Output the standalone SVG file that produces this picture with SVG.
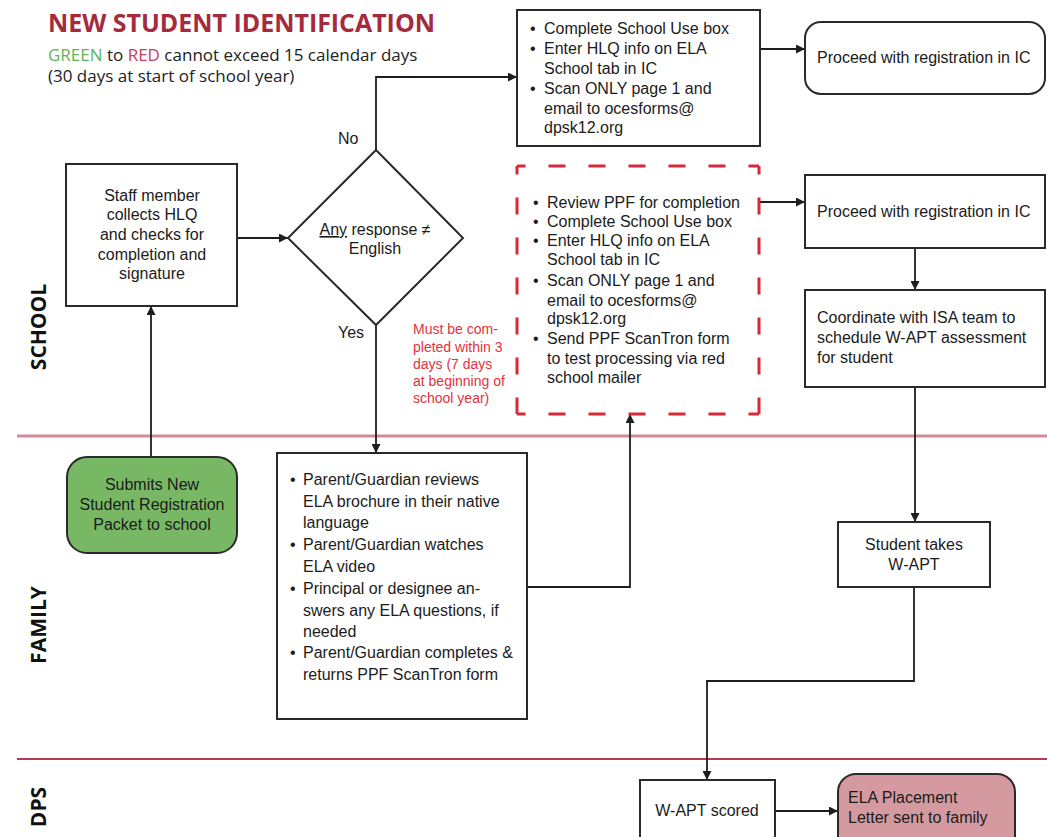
<svg xmlns="http://www.w3.org/2000/svg" width="1047" height="837" viewBox="0 0 1047 837">
  <defs>
    <marker id="arrow" viewBox="0 0 10 10" refX="10" refY="5" markerWidth="9" markerHeight="9" markerUnits="userSpaceOnUse" orient="auto">
      <path d="M0,0 L10,5 L0,10 z" fill="#1e1e1e"/>
    </marker>
    <style>
      .box{fill:#fff;stroke:#2a2a2a;stroke-width:2}
      .t{font-family:"Liberation Sans",Arial,sans-serif;font-size:16px;fill:#1b1b1b}
      .c{text-anchor:middle}
      .note{font-family:"Liberation Sans",Arial,sans-serif;font-size:14px;fill:#e2323e}
      .lane{font-family:"Open Sans","Liberation Sans",sans-serif;font-weight:bold;font-size:21px;fill:#111;text-anchor:middle}
      .head{font-family:"Open Sans","Liberation Sans",sans-serif}
      .conn path{fill:none;stroke:#1e1e1e;stroke-width:1.8}
      .dash{fill:none;stroke:#d8283a;stroke-width:3;stroke-dasharray:17 23;stroke-dashoffset:8.5}
    </style>
  </defs>

  <rect width="1047" height="837" fill="#fff"/>

  <!-- header -->
  <g id="header" class="head">
    <text x="48" y="32" font-size="25" font-weight="bold" fill="#a42a3c" textLength="387" lengthAdjust="spacingAndGlyphs">NEW STUDENT IDENTIFICATION</text>
    <text x="48" y="61" font-size="17" fill="#222"><tspan fill="#5fb35a">GREEN</tspan> to <tspan fill="#c2415e">RED</tspan> cannot exceed 15 calendar days</text>
    <text x="48" y="82" font-size="17" fill="#222">(30 days at start of school year)</text>
  </g>

  <!-- swimlane dividers and labels -->
  <g id="lanes">
    <line x1="17" y1="436" x2="1047" y2="436" stroke="#d48a95" stroke-width="3"/>
    <line x1="17" y1="759" x2="1047" y2="759" stroke="#b63c4d" stroke-width="2"/>
    <text class="lane" transform="translate(46,327) rotate(-90)">SCHOOL</text>
    <text class="lane" transform="translate(46,625) rotate(-90)">FAMILY</text>
    <text class="lane" transform="translate(46,807) rotate(-90)">DPS</text>
  </g>

  <!-- connectors -->
  <g id="connectors" class="conn">
    <path d="M151,457 V306" marker-end="url(#arrow)"/>
    <path d="M237,238 H288" marker-end="url(#arrow)"/>
    <path d="M376,150 V77 H517" marker-end="url(#arrow)"/>
    <path d="M376,325 V453" marker-end="url(#arrow)"/>
    <path d="M760,49 H805" marker-end="url(#arrow)"/>
    <path d="M760,202 H805" marker-end="url(#arrow)"/>
    <path d="M527,587 H630 V414" marker-end="url(#arrow)"/>
    <path d="M915,248 V290" marker-end="url(#arrow)"/>
    <path d="M915,387 V522" marker-end="url(#arrow)"/>
    <path d="M914,587 V681 H707 V780" marker-end="url(#arrow)"/>
    <path d="M775,811 H838" marker-end="url(#arrow)"/>
  </g>
  <g id="edge-labels" class="t">
    <text x="338" y="144">No</text>
    <text x="338" y="338">Yes</text>
  </g>

  <!-- SCHOOL lane -->
  <g id="staff-collects">
    <rect class="box" x="66" y="164" width="171" height="142"/>
    <text class="t c" x="152" y="201">Staff member</text>
    <text class="t c" x="152" y="220">collects HLQ</text>
    <text class="t c" x="152" y="240">and checks for</text>
    <text class="t c" x="152" y="260">completion and</text>
    <text class="t c" x="152" y="279">signature</text>
  </g>

  <g id="decision">
    <path class="box" d="M376,150 L463,238 L376,325 L288,238 Z"/>
    <text class="t c" x="375" y="235" font-size="15.5"><tspan text-decoration="underline">Any</tspan> response ≠</text>
    <text class="t c" x="375" y="254" font-size="15.5">English</text>
  </g>

  <g id="no-tasks">
    <rect class="box" x="517" y="10" width="243" height="136"/>
    <g class="t">
      <text x="530" y="34">•</text><text x="544" y="34">Complete School Use box</text>
      <text x="530" y="54">•</text><text x="544" y="54">Enter HLQ info on ELA</text>
      <text x="544" y="74">School tab in IC</text>
      <text x="530" y="94">•</text><text x="544" y="94">Scan ONLY page 1 and</text>
      <text x="544" y="114">email to ocesforms@</text>
      <text x="544" y="133">dpsk12.org</text>
    </g>
  </g>

  <g id="proceed-no">
    <rect class="box" x="805" y="22" width="240" height="72" rx="16"/>
    <text class="t" x="817" y="63">Proceed with registration in IC</text>
  </g>

  <g id="yes-tasks">
    <path class="dash" d="M517,166 H759"/>
    <path class="dash" d="M759,166 V414"/>
    <path class="dash" d="M517,414 H759"/>
    <path class="dash" d="M517,166 V414"/>
    <g class="t">
      <text x="533" y="208">•</text><text x="547" y="208">Review PPF for completion</text>
      <text x="533" y="227">•</text><text x="547" y="227">Complete School Use box</text>
      <text x="533" y="246">•</text><text x="547" y="246">Enter HLQ info on ELA</text>
      <text x="547" y="265">School tab in IC</text>
      <text x="533" y="286">•</text><text x="547" y="286">Scan ONLY page 1 and</text>
      <text x="547" y="306">email to ocesforms@</text>
      <text x="547" y="324">dpsk12.org</text>
      <text x="533" y="344">•</text><text x="547" y="344">Send PPF ScanTron form</text>
      <text x="547" y="364">to test processing via red</text>
      <text x="547" y="383">school mailer</text>
    </g>
  </g>

  <g id="deadline-note" class="note">
    <text x="413" y="334">Must be com-</text>
    <text x="413" y="352">pleted within 3</text>
    <text x="413" y="369">days (7 days</text>
    <text x="413" y="386">at beginning of</text>
    <text x="413" y="403">school year)</text>
  </g>

  <g id="proceed-yes">
    <rect class="box" x="805" y="175" width="240" height="73"/>
    <text class="t" x="817" y="217">Proceed with registration in IC</text>
  </g>

  <g id="coordinate-isa">
    <rect class="box" x="805" y="290" width="240" height="97"/>
    <text class="t" x="817" y="323">Coordinate with ISA team to</text>
    <text class="t" x="817" y="343">schedule W-APT assessment</text>
    <text class="t" x="817" y="363">for student</text>
  </g>

  <!-- FAMILY lane -->
  <g id="submit-packet">
    <rect x="67" y="457" width="170" height="96" rx="20" fill="#78b865" stroke="#2a2a2a" stroke-width="2"/>
    <text class="t c" x="152" y="490">Submits New</text>
    <text class="t c" x="152" y="510">Student Registration</text>
    <text class="t c" x="152" y="530">Packet to school</text>
  </g>

  <g id="family-review">
    <rect class="box" x="277" y="453" width="250" height="266"/>
    <g class="t">
      <text x="290" y="485">•</text><text x="303" y="485">Parent/Guardian reviews</text>
      <text x="303" y="507">ELA brochure in their native</text>
      <text x="303" y="528">language</text>
      <text x="290" y="550">•</text><text x="303" y="550">Parent/Guardian watches</text>
      <text x="303" y="572">ELA video</text>
      <text x="290" y="594">•</text><text x="303" y="594">Principal or designee an-</text>
      <text x="303" y="616">swers any ELA questions, if</text>
      <text x="303" y="637">needed</text>
      <text x="290" y="658">•</text><text x="303" y="658">Parent/Guardian completes &amp;</text>
      <text x="303" y="680">returns PPF ScanTron form</text>
    </g>
  </g>

  <g id="student-takes">
    <rect class="box" x="838" y="522" width="152" height="65"/>
    <text class="t c" x="914" y="550">Student takes</text>
    <text class="t c" x="914" y="570">W-APT</text>
  </g>

  <!-- DPS lane -->
  <g id="wapt-scored">
    <rect class="box" x="640" y="780" width="135" height="70"/>
    <text class="t c" x="707" y="816">W-APT scored</text>
  </g>

  <g id="placement-letter">
    <rect x="838" y="774" width="177" height="80" rx="18" fill="#d49aa0" stroke="#2a2a2a" stroke-width="2"/>
    <text class="t" x="848" y="803">ELA Placement</text>
    <text class="t" x="848" y="823">Letter sent to family</text>
  </g>
</svg>
